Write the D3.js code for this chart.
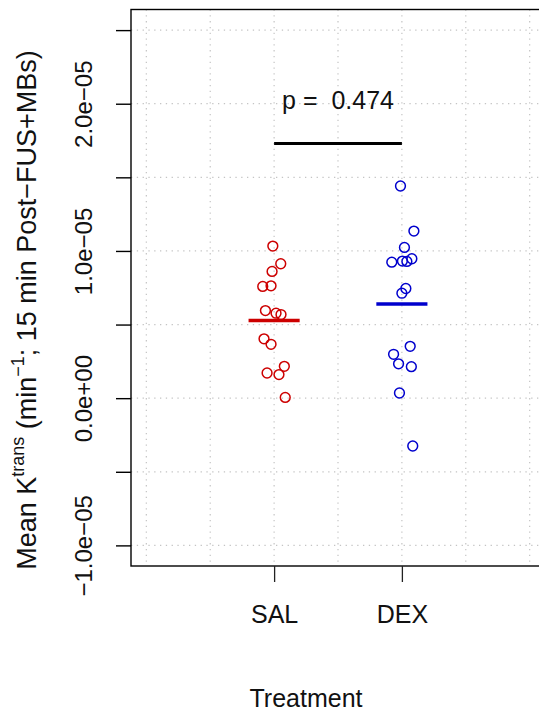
<!DOCTYPE html>
<html>
<head>
<meta charset="utf-8">
<script src="https://cdn.jsdelivr.net/npm/d3@7"></script>
<style>
  body { margin: 0; background: #fff; }
  svg { display: block; font-family: "Liberation Sans", Arial, Helvetica, sans-serif; }
</style>
</head>
<body>
<svg id="chart" width="539" height="712"></svg>
<script>
// Treatment groups and their x positions
const groups = ["SAL", "DEX"];
const groupPos = [1, 2];
const groupColors = ["#cd0000", "#0000cd"];

// Jittered points (x = jittered group position, y = mean Ktrans)
const salX = [0.99, 1.052, 0.984, 0.911, 0.976, 0.932, 1.015, 1.054, 0.921, 0.976, 1.08, 0.945, 1.038, 1.087];
const salY = [1.033e-5, 0.913e-5, 0.861e-5, 0.759e-5, 0.763e-5, 0.595e-5, 0.577e-5, 0.568e-5,
              0.403e-5, 0.366e-5, 0.216e-5, 0.171e-5, 0.160e-5, 0.005e-5];
const dexX = [1.989, 2.094, 2.02, 1.921, 2.004, 2.039, 2.078, 2.031, 2.0, 2.065, 1.935, 1.974, 2.074, 1.981, 2.085];
const dexY = [1.441e-5, 1.135e-5, 1.024e-5, 0.924e-5, 0.931e-5, 0.929e-5, 0.947e-5, 0.745e-5,
              0.713e-5, 0.352e-5, 0.298e-5, 0.233e-5, 0.214e-5, 0.035e-5, -0.325e-5];

// Axis ticks and grid
const yTicks = [-1e-5, -0.5e-5, 0, 0.5e-5, 1e-5, 1.5e-5, 2e-5, 2.5e-5];
const yTickLabels = {"-0.00001": "\u22121.0e\u221205", "0": "0.0e+00", "0.00001": "1.0e\u221205", "0.00002": "2.0e\u221205"};
const xGrid = [0, 0.5, 1, 1.5, 2, 2.5, 3];

// Significance annotation
const pText = "p =  0.474";
const barY = 1.73e-5;
const textY = 2.0e-5;

const svg = d3.select("#chart");

const x = d3.scaleLinear().domain([-0.12, 3.12]).range([131, 545]);
const y = d3.scaleLinear().domain([-1.14e-5, 2.64e-5]).range([566, 9.5]);

// grid lines (dotted light gray)
const grid = svg.append("g")
    .attr("stroke", "#c4c4c4")
    .attr("stroke-width", 1.2)
    .attr("stroke-dasharray", "1.3,4.5");

grid.selectAll("line.h")
    .data(yTicks)
    .enter().append("line")
    .attr("x1", x.range()[0]).attr("x2", x.range()[1])
    .attr("y1", d => y(d)).attr("y2", d => y(d));

grid.selectAll("line.v")
    .data(xGrid)
    .enter().append("line")
    .attr("x1", d => x(d)).attr("x2", d => x(d))
    .attr("y1", y.range()[1]).attr("y2", y.range()[0]);

// box
svg.append("rect")
    .attr("x", x.range()[0]).attr("y", y.range()[1])
    .attr("width", x.range()[1] - x.range()[0])
    .attr("height", y.range()[0] - y.range()[1])
    .attr("fill", "none").attr("stroke", "#000").attr("stroke-width", 1.4);

// y axis
const yAxis = svg.append("g")
    .attr("transform", `translate(${x.range()[0]},0)`)
    .call(d3.axisLeft(y).tickValues(yTicks).tickSize(15)
        .tickFormat(d => yTickLabels[String(+d.toFixed(7))] || ""));
yAxis.select(".domain").remove();
yAxis.selectAll(".tick line").attr("stroke", "#000").attr("stroke-width", 1.4);
yAxis.selectAll(".tick text")
    .attr("font-size", 24)
    .attr("fill", "#111")
    .attr("text-anchor", "middle")
    .attr("dy", 0)
    .attr("transform", "translate(-39,0) rotate(-90)")
    .attr("x", 0).attr("y", 0);

// x axis
const xAxis = svg.append("g")
    .attr("transform", `translate(0,${y.range()[0]})`)
    .call(d3.axisBottom(x).tickValues(groupPos).tickSize(16)
        .tickFormat((d, i) => groups[i]));
xAxis.select(".domain").remove();
xAxis.selectAll(".tick line").attr("stroke", "#222").attr("stroke-width", 1.3);
xAxis.selectAll(".tick text")
    .attr("font-size", 25)
    .attr("fill", "#111")
    .attr("dy", 0)
    .attr("y", 57);

// axis titles
svg.append("text")
    .attr("x", 306).attr("y", 707)
    .attr("text-anchor", "middle")
    .attr("font-size", 25)
    .attr("fill", "#111")
    .text("Treatment");

const yTitle = svg.append("text")
    .attr("transform", "translate(36,310) rotate(-90)")
    .attr("text-anchor", "middle")
    .attr("font-size", 27)
    .attr("fill", "#111");
yTitle.append("tspan").text("Mean K");
yTitle.append("tspan").attr("font-size", 18).attr("dy", -12).text("trans");
yTitle.append("tspan").attr("dy", 12).text(" (min");
yTitle.append("tspan").attr("font-size", 18).attr("dy", -12).text("\u22121");
yTitle.append("tspan").attr("dy", 12).text("; 15 min Post\u2212FUS+MBs)");

// points
const series = [
    {xs: salX, ys: salY, color: groupColors[0], pos: groupPos[0]},
    {xs: dexX, ys: dexY, color: groupColors[1], pos: groupPos[1]}
];

series.forEach(s => {
    svg.append("g").selectAll("circle")
        .data(s.ys)
        .enter().append("circle")
        .attr("cx", (d, i) => x(s.xs[i]))
        .attr("cy", d => y(d))
        .attr("r", 4.9)
        .attr("fill", "none")
        .attr("stroke", s.color)
        .attr("stroke-width", 1.5);

    // group mean
    const m = d3.mean(s.ys);
    svg.append("line")
        .attr("x1", x(s.pos - 0.2)).attr("x2", x(s.pos + 0.2))
        .attr("y1", y(m)).attr("y2", y(m))
        .attr("stroke", s.color)
        .attr("stroke-width", 3.5);
});

// p-value bar and text
svg.append("line")
    .attr("x1", x(groupPos[0])).attr("x2", x(groupPos[1]))
    .attr("y1", y(barY)).attr("y2", y(barY))
    .attr("stroke", "#000").attr("stroke-width", 3);

svg.append("text")
    .attr("x", x(1.5)).attr("y", y(textY))
    .attr("dy", 5)
    .attr("text-anchor", "middle")
    .attr("font-size", 25)
    .attr("fill", "#111")
    .style("white-space", "pre")
    .text(pText);
</script>
</body>
</html>
